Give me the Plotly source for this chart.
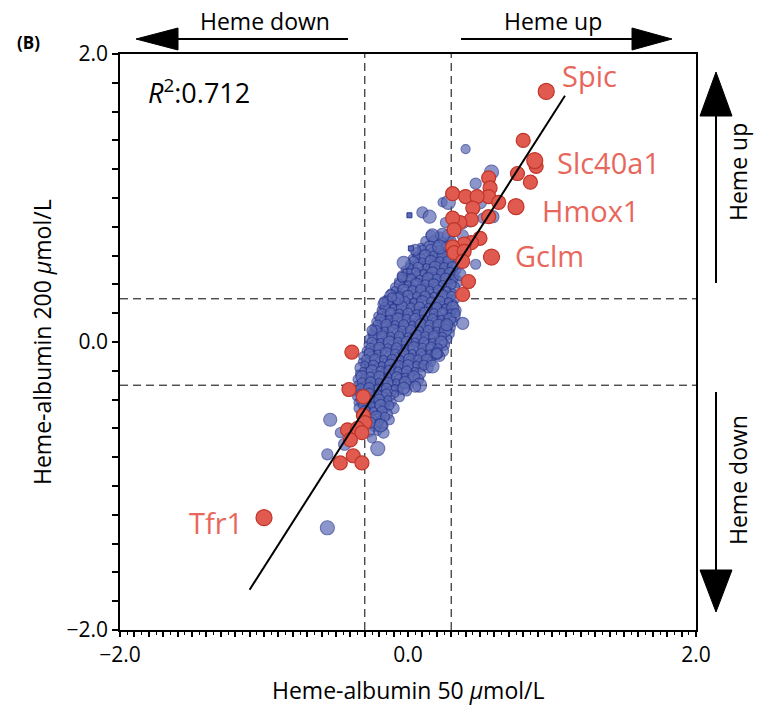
"""Heme-albumin 50 vs 200 umol/L — log fold change scatter (Plotly)."""

import plotly.graph_objects as go

# ---- data -------------------------------------------------------------
# dense core of unchanged genes, typed row by row (y, list of x)
core_rows = [
    (0.74, [0.16, 0.22, 0.28]),
    (0.70, [0.12, 0.18, 0.24, 0.30]),
    (0.66, [0.09, 0.15, 0.21, 0.27, 0.33]),
    (0.62, [0.06, 0.12, 0.18, 0.24, 0.30]),
    (0.58, [0.03, 0.09, 0.15, 0.21, 0.27, 0.33]),
    (0.54, [0.01, 0.07, 0.13, 0.19, 0.25, 0.31]),
    (0.50, [-0.02, 0.04, 0.10, 0.16, 0.22, 0.28, 0.34]),
    (0.46, [-0.04, 0.02, 0.08, 0.14, 0.20, 0.26, 0.32]),
    (0.42, [-0.07, -0.01, 0.05, 0.11, 0.17, 0.23, 0.29, 0.34]),
    (0.38, [-0.09, -0.03, 0.03, 0.09, 0.15, 0.21, 0.27, 0.32]),
    (0.34, [-0.12, -0.06, 0.00, 0.06, 0.12, 0.18, 0.24, 0.30]),
    (0.30, [-0.15, -0.09, -0.03, 0.03, 0.09, 0.15, 0.21, 0.27, 0.33]),
    (0.26, [-0.17, -0.11, -0.05, 0.01, 0.07, 0.13, 0.19, 0.25, 0.31]),
    (0.22, [-0.19, -0.13, -0.07, -0.01, 0.05, 0.11, 0.17, 0.23, 0.29, 0.33]),
    (0.18, [-0.21, -0.15, -0.09, -0.03, 0.03, 0.09, 0.15, 0.21, 0.27, 0.32]),
    (0.14, [-0.22, -0.16, -0.10, -0.04, 0.02, 0.08, 0.14, 0.20, 0.26, 0.31]),
    (0.10, [-0.24, -0.18, -0.12, -0.06, 0.00, 0.06, 0.12, 0.18, 0.24, 0.29]),
    (0.06, [-0.25, -0.19, -0.13, -0.07, -0.01, 0.05, 0.11, 0.17, 0.23, 0.28]),
    (0.02, [-0.27, -0.21, -0.15, -0.09, -0.03, 0.03, 0.09, 0.15, 0.21, 0.27]),
    (-0.02, [-0.28, -0.22, -0.16, -0.10, -0.04, 0.02, 0.08, 0.14, 0.20, 0.25]),
    (-0.06, [-0.29, -0.23, -0.17, -0.11, -0.05, 0.01, 0.07, 0.13, 0.19, 0.24]),
    (-0.10, [-0.31, -0.25, -0.19, -0.13, -0.07, -0.01, 0.05, 0.11, 0.17, 0.22]),
    (-0.14, [-0.32, -0.26, -0.20, -0.14, -0.08, -0.02, 0.04, 0.10, 0.16]),
    (-0.18, [-0.33, -0.27, -0.21, -0.15, -0.09, -0.03, 0.03, 0.09, 0.14]),
    (-0.22, [-0.34, -0.28, -0.22, -0.16, -0.10, -0.04, 0.02, 0.08]),
    (-0.26, [-0.35, -0.29, -0.23, -0.17, -0.11, -0.05, 0.01, 0.07]),
    (-0.30, [-0.35, -0.29, -0.23, -0.17, -0.11, -0.05, 0.01]),
    (-0.34, [-0.36, -0.30, -0.24, -0.18, -0.12, -0.06, -0.01]),
    (-0.38, [-0.36, -0.30, -0.24, -0.18, -0.12, -0.06]),
    (-0.42, [-0.35, -0.29, -0.23, -0.17, -0.11]),
    (-0.46, [-0.34, -0.28, -0.22, -0.16, -0.10]),
    (-0.50, [-0.33, -0.27, -0.21, -0.15]),
    (-0.54, [-0.31, -0.25, -0.19, -0.13]),
    (-0.58, [-0.29, -0.23, -0.17]),
    (-0.62, [-0.27, -0.21]),
]

# second, interleaved layer of the core (the densest part of the cloud)
inner_rows = [
    (0.64, [0.10, 0.16, 0.22, 0.28]),
    (0.60, [0.06, 0.12, 0.18, 0.24, 0.30]),
    (0.56, [0.04, 0.10, 0.16, 0.22, 0.28]),
    (0.52, [0.01, 0.07, 0.13, 0.19, 0.25, 0.31]),
    (0.48, [-0.01, 0.05, 0.11, 0.17, 0.23, 0.29]),
    (0.44, [-0.04, 0.02, 0.08, 0.14, 0.20, 0.26, 0.32]),
    (0.40, [-0.06, 0.00, 0.06, 0.12, 0.18, 0.24, 0.30]),
    (0.36, [-0.09, -0.03, 0.03, 0.09, 0.15, 0.21, 0.27]),
    (0.32, [-0.12, -0.06, 0.00, 0.06, 0.12, 0.18, 0.24, 0.30]),
    (0.28, [-0.14, -0.08, -0.02, 0.04, 0.10, 0.16, 0.22, 0.28]),
    (0.24, [-0.16, -0.10, -0.04, 0.02, 0.08, 0.14, 0.20, 0.26, 0.31]),
    (0.20, [-0.18, -0.12, -0.06, 0.00, 0.06, 0.12, 0.18, 0.24, 0.30]),
    (0.16, [-0.19, -0.13, -0.07, -0.01, 0.05, 0.11, 0.17, 0.23, 0.29]),
    (0.12, [-0.21, -0.15, -0.09, -0.03, 0.03, 0.09, 0.15, 0.21, 0.27]),
    (0.08, [-0.22, -0.16, -0.10, -0.04, 0.02, 0.08, 0.14, 0.20, 0.26]),
    (0.04, [-0.24, -0.18, -0.12, -0.06, 0.00, 0.06, 0.12, 0.18, 0.24]),
    (0.00, [-0.25, -0.19, -0.13, -0.07, -0.01, 0.05, 0.11, 0.17, 0.23]),
    (-0.04, [-0.26, -0.20, -0.14, -0.08, -0.02, 0.04, 0.10, 0.16, 0.21]),
    (-0.08, [-0.27, -0.21, -0.15, -0.09, -0.03, 0.03, 0.09, 0.15, 0.20]),
    (-0.12, [-0.29, -0.23, -0.17, -0.11, -0.05, 0.01, 0.07, 0.13]),
    (-0.16, [-0.30, -0.24, -0.18, -0.12, -0.06, 0.00, 0.06, 0.11]),
    (-0.20, [-0.31, -0.25, -0.19, -0.13, -0.07, -0.01, 0.05]),
    (-0.24, [-0.32, -0.26, -0.20, -0.14, -0.08, -0.02, 0.04]),
    (-0.28, [-0.32, -0.26, -0.20, -0.14, -0.08, -0.02]),
    (-0.32, [-0.33, -0.27, -0.21, -0.15, -0.09, -0.03]),
    (-0.36, [-0.33, -0.27, -0.21, -0.15, -0.09]),
    (-0.40, [-0.32, -0.26, -0.20, -0.14]),
    (-0.44, [-0.31, -0.25, -0.19, -0.13]),
    (-0.48, [-0.30, -0.24, -0.18]),
    (-0.52, [-0.28, -0.22, -0.16]),
    (-0.56, [-0.26, -0.20]),
]

# scattered unchanged genes around the core
blue_x = [-0.56, -0.56, -0.54, -0.47, -0.44, -0.25, -0.21, -0.17, -0.19, -0.25,
          0.38, 0.33, 0.08, 0.05, 0.17, 0.20, 0.27, 0.40, 0.58, 0.47,
          0.50, 0.52, 0.59, 0.24, 0.28, 0.10, 0.15, 0.26, 0.38, 0.43,
          0.24, 0.38, 0.17, 0.47, 0.36, -0.17, 0.22, 0.05, -0.03, -0.04,
          -0.07, -0.11]
blue_y = [-1.29, -0.78, -0.54, -0.63, -0.71, -0.67, -0.74, -0.63, -0.58, 0.08,
          0.13, 0.20, -0.30, -0.31, -0.17, -0.08, 0.12, 1.34, 1.18, 1.10,
          0.97, 0.86, 0.87, 0.97, 0.97, 0.90, 0.87, 0.83, 0.83, 0.83,
          0.74, 0.74, 0.74, 0.54, 0.47, 0.28, 0.66, 0.64, 0.55, 0.45,
          0.30, 0.31]
# tiny square markers
tiny_x = [0.01, 0.02, 0.01]
tiny_y = [0.88, 0.65, 0.49]

# heme-responsive genes
red_x = [0.80, 0.89, 0.76, 0.85, 0.56, 0.57, 0.56, 0.63, 0.31, 0.40,
         0.48, 0.45, 0.44, 0.36, 0.31, 0.32, 0.50, 0.44, 0.39, 0.31,
         0.32, 0.39, 0.38, 0.42, 0.38, 0.56,
         -0.39, -0.41, -0.31, -0.31, -0.30, -0.42, -0.35, -0.32, -0.40, -0.47,
         -0.38, -0.32]
red_y = [1.40, 1.22, 1.17, 1.11, 1.14, 1.07, 1.01, 0.97, 1.03, 1.01,
         1.01, 0.93, 0.85, 0.83, 0.86, 0.78, 0.72, 0.69, 0.68, 0.66,
         0.62, 0.63, 0.56, 0.42, 0.33, 0.87,
         -0.07, -0.33, -0.38, -0.51, -0.56, -0.61, -0.60, -0.63, -0.68, -0.84,
         -0.79, -0.84]

genes = ["Spic", "Slc40a1", "Hmox1", "Gclm", "Tfr1"]
gene_x = [0.96, 0.88, 0.75, 0.58, -1.00]
gene_y = [1.74, 1.26, 0.94, 0.59, -1.22]

fit_x = [-1.10, 1.09]
fit_y = [-1.72, 1.71]
r_squared = 0.712
cutoff = 0.3

# ---- styling ------------------------------------------------------------
BLUE_FILL = "#5d6bb4"
BLUE_EDGE = "#2a3890"
RED_FILL = "#e05a4f"
RED_EDGE = "#c0352a"
LABEL_RED = "#e8675d"
FONT = "Open Sans"
SIZE_CYCLE = [10, 7, 12, 9, 11, 8]


def flatten(rows):
    xs = [x for _, row in rows for x in row]
    ys = [y for y, row in rows for _ in row]
    return xs, ys


core_x, core_y = flatten(core_rows)
inner_x, inner_y = flatten(inner_rows)
core_size = [SIZE_CYCLE[i % len(SIZE_CYCLE)] for i in range(len(core_x))]
inner_size = [SIZE_CYCLE[(i + 3) % len(SIZE_CYCLE)] for i in range(len(inner_x))]
blue_size = [SIZE_CYCLE[(i + 2) % len(SIZE_CYCLE)] + 2 for i in range(len(blue_x))]


def px(x, y):
    """Pixel position in the 758x706 page -> paper coordinates."""
    return (x - 120) / 576, (630 - y) / 576


fig = go.Figure()

blue_marker = dict(color=BLUE_FILL, line=dict(color=BLUE_EDGE, width=1.2))
fig.add_trace(go.Scatter(x=core_x, y=core_y, mode="markers",
                         marker=dict(size=core_size, **blue_marker), hoverinfo="x+y"))
fig.add_trace(go.Scatter(x=inner_x, y=inner_y, mode="markers",
                         marker=dict(size=inner_size, **blue_marker), hoverinfo="x+y"))
fig.add_trace(go.Scatter(x=blue_x, y=blue_y, mode="markers",
                         marker=dict(size=blue_size, **blue_marker), hoverinfo="x+y"))
fig.add_trace(go.Scatter(
    x=tiny_x, y=tiny_y, mode="markers",
    marker=dict(size=5, symbol="square", color=BLUE_FILL,
                line=dict(color=BLUE_EDGE, width=1)),
    hoverinfo="x+y",
))
fig.add_trace(go.Scatter(
    x=red_x, y=red_y, mode="markers",
    marker=dict(size=14, color=RED_FILL, line=dict(color=RED_EDGE, width=1.2)),
    hoverinfo="x+y",
))
fig.add_trace(go.Scatter(
    x=gene_x, y=gene_y, mode="markers", text=genes,
    marker=dict(size=16, color=RED_FILL, line=dict(color=RED_EDGE, width=1.2)),
    hovertemplate="%{text}<extra></extra>",
))
fig.add_trace(go.Scatter(
    x=fit_x, y=fit_y, mode="lines",
    line=dict(color="black", width=2), hoverinfo="skip",
))

# cut-off lines
for v in (-cutoff, cutoff):
    fig.add_shape(type="line", xref="x", yref="paper", x0=v, x1=v, y0=0, y1=1,
                  line=dict(color="black", width=1, dash="8px,5px"), layer="below")
    fig.add_shape(type="line", xref="paper", yref="y", x0=0, x1=1, y0=v, y1=v,
                  line=dict(color="black", width=1, dash="8px,5px"), layer="below")


# direction arrows outside the axes
def arrow(x0, y0, x1, y1, tip, base_a, base_b):
    a = px(x0, y0)
    b = px(x1, y1)
    fig.add_shape(type="line", xref="paper", yref="paper",
                  x0=a[0], y0=a[1], x1=b[0], y1=b[1],
                  line=dict(color="black", width=2))
    t, p, q = px(*tip), px(*base_a), px(*base_b)
    fig.add_shape(type="path", xref="paper", yref="paper",
                  path=f"M {t[0]} {t[1]} L {p[0]} {p[1]} L {q[0]} {q[1]} Z",
                  fillcolor="black", line=dict(color="black", width=1))


arrow(348, 39, 176, 39, (136, 39), (178, 28), (178, 50))
arrow(461, 39, 634, 39, (672, 39), (632, 28), (632, 50))
arrow(716, 283, 716, 114, (716, 72), (700, 116), (732, 116))
arrow(716, 392, 716, 572, (716, 612), (700, 570), (732, 570))


def text(s, x, y, size, color="black", angle=0, xanchor="center", bold=False):
    p = px(x, y)
    fig.add_annotation(
        text=f"<b>{s}</b>" if bold else s, xref="paper", yref="paper",
        x=p[0], y=p[1], xanchor=xanchor, yanchor="middle", showarrow=False,
        textangle=angle, font=dict(family=FONT, size=size, color=color),
    )


text("Heme down", 265, 21, 23)
text("Heme up", 553, 21, 23)
text("Heme up", 738, 172, 23, angle=-90)
text("Heme down", 738, 480, 23, angle=-90)
text("(B)", 28, 42, 17, bold=True)
text(f"<i>R</i><sup>2</sup>:{r_squared}", 146, 91, 27, xanchor="left")
text("Heme-albumin 50 <i>μ</i>mol/L", 408, 690, 23)
text("Heme-albumin 200 <i>μ</i>mol/L", 42, 342, 23, angle=-90)

# gene labels
label_pos = [(560, 75, "left"), (555, 162, "left"), (540, 210, "left"),
             (513, 255, "left"), (245, 522, "right")]
for g, (lx, ly, anc) in zip(genes, label_pos):
    text(g, lx, ly, 29, color=LABEL_RED, xanchor=anc)

x_ticks = [round(-2 + 0.1 * i, 1) for i in range(41)]
y_ticks = [round(-2 + 0.2 * i, 1) for i in range(21)]


def tick_label(v):
    if v in (-2.0, 0.0, 2.0):
        return f"{v:.1f}".replace("-", "−")
    return ""


fig.update_layout(
    width=758, height=706,
    margin=dict(l=120, r=62, t=54, b=76),
    paper_bgcolor="white", plot_bgcolor="white",
    showlegend=False,
    font=dict(family=FONT, size=21, color="black"),
    xaxis=dict(
        range=[-2, 2], showgrid=False, zeroline=False,
        showline=True, linecolor="black", linewidth=1.5, mirror=True,
        tickmode="array", tickvals=x_ticks,
        ticktext=[tick_label(v) for v in x_ticks],
        ticks="outside", ticklen=5, tickwidth=1.5, tickcolor="black",
        minor=dict(dtick=0.05, tick0=0, ticks="outside", ticklen=3,
                   tickwidth=1, tickcolor="black"),
        tickfont=dict(size=21),
    ),
    yaxis=dict(
        range=[-2, 2], showgrid=False, zeroline=False,
        showline=True, linecolor="black", linewidth=1.5, mirror=True,
        tickmode="array", tickvals=y_ticks,
        ticktext=[tick_label(v) for v in y_ticks],
        ticks="outside", ticklen=6, tickwidth=1.5, tickcolor="black",
        tickfont=dict(size=21),
    ),
)

fig.write_html("out.html", config={"displayModeBar": False},
               post_script="document.body.style.margin='0';")
